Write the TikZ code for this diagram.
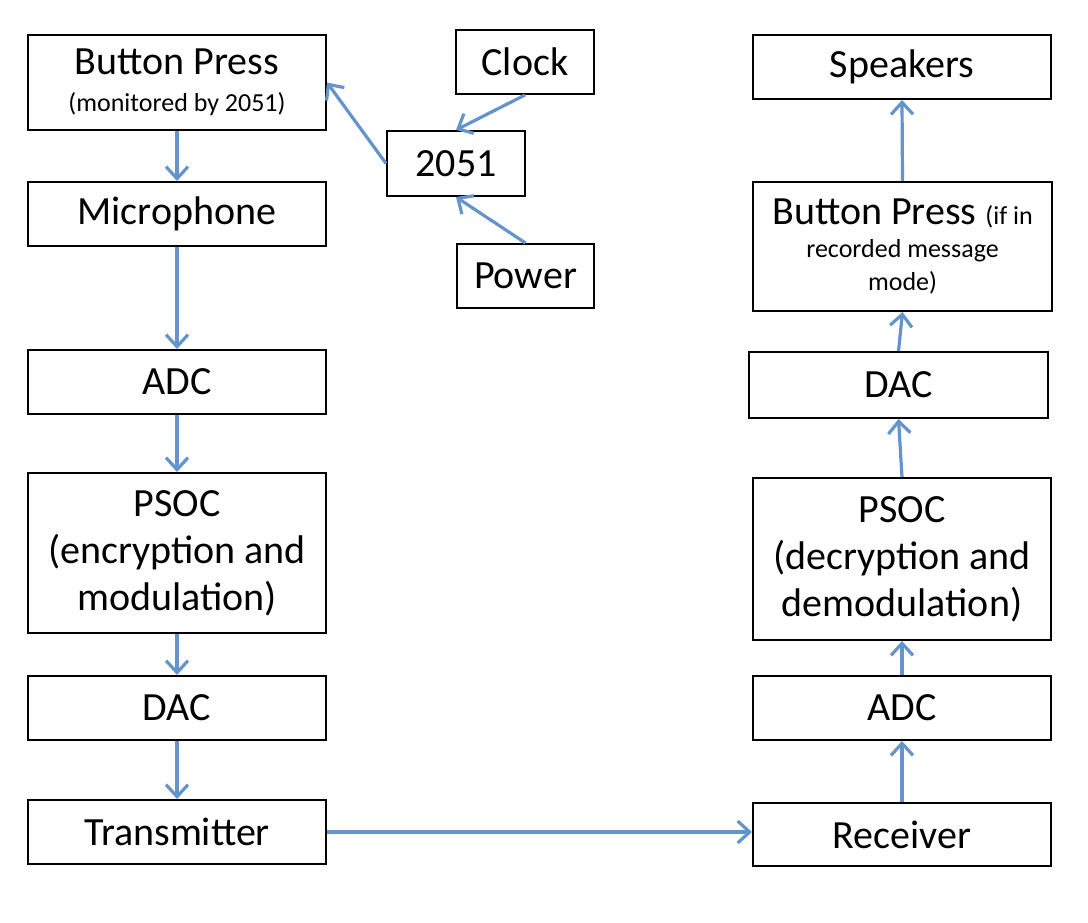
\documentclass[tikz,border=0pt]{standalone}
\usepackage{fontspec}
\setmainfont{Carlito}
\usetikzlibrary{arrows.meta}
\definecolor{arrowBlue}{RGB}{100,148,204}
\newcommand{\smallText}{\fontsize{13}{16}\selectfont}

\begin{document}
\begin{tikzpicture}
[x=0.5pt,y=-0.5pt,
  boxDecorate/.style={shape=rectangle,draw,line width=1pt,inner sep=0pt,align=center,%
    font=\fontsize{20}{23.5}\selectfont},
  lineDecorate/.style={-{Straight Barb[length=6pt,width=11pt]},line width=1.6pt,draw=arrowBlue}]
\useasboundingbox (0,0) rectangle (1088,922);
%% blocks: name/x/y/width/height/text
\foreach \nodename/\x/\y/\w/\h/\txt in {%
    bpL/177/82.5/149/47.5/{Button Press\\[-5pt]\smallText(monitored by 2051)},
    mic/177/214/149/32/{Microphone},
    adcL/177/382/149/32/{ADC},
    psocL/177/553/149/80/{PSOC\\(encryption and\\modulation)},
    dacL/177/708/149/32/{DAC},
    tx/177/832/149/32/{Transmitter},
    clock/525/62/69/32/{Clock},
    chip/456/163.5/69/32.5/{2051},
    power/525.5/276/68.5/32/{Power},
    spk/902/67/149/32/{Speakers},
    bpR/902.5/246.5/149.5/64.5/{Button Press {\smallText(if in}\\[-7pt]\smallText recorded message\\[-7pt]\smallText mode)},
    dacR/898.5/385/149.5/33/{DAC},
    psocR/902/559/149/81/{PSOC\\(decryption and\\demodulation)},
    adcR/902/708/149/32/{ADC},
    rx/902/834.5/149/31.5/{Receiver}} {
  \node (\nodename) at (\x,\y) [boxDecorate,minimum width=\w pt,minimum height=\h pt] {\txt};
}
%% arrows
\path
\foreach \startnode/\endnode in {bpL.south/mic.north, mic.south/adcL.north,
    adcL.south/psocL.north, psocL.south/dacL.north, dacL.south/tx.north,
    tx.east/{tx.east -| rx.west}, rx.north/adcR.south, adcR.north/psocR.south,
    psocR.north/dacR.south, dacR.north/bpR.south, bpR.north/spk.south,
    chip.west/bpL.east, clock.south/chip.north, power.north/chip.south} {
  (\startnode) edge[lineDecorate] (\endnode)
};
\end{tikzpicture}
\end{document}
